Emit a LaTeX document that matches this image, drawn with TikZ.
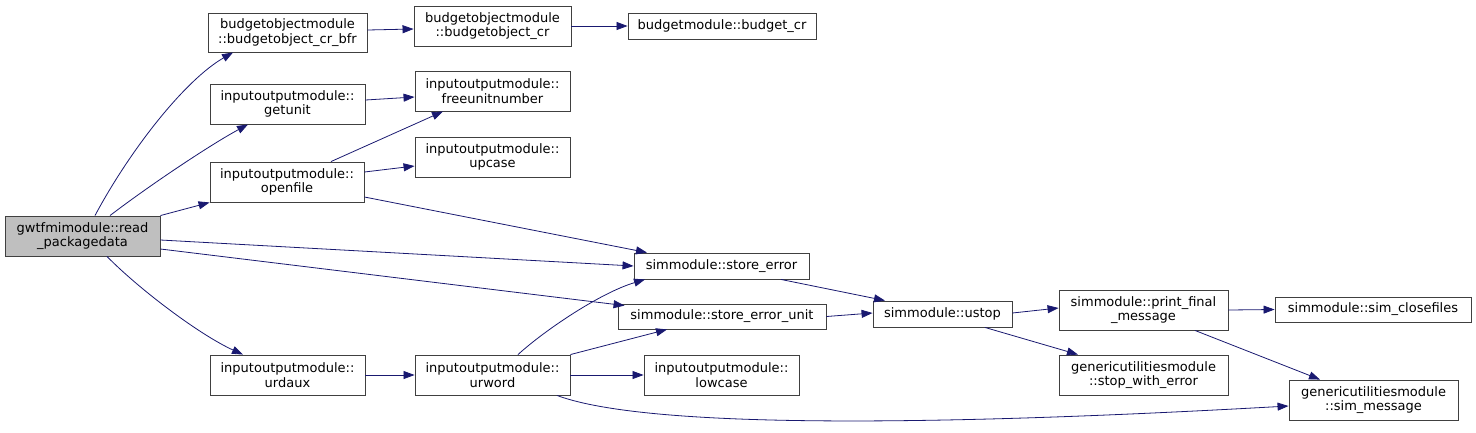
\documentclass[tikz,border=0pt]{standalone}
\usepackage{fontspec}
\setmainfont{DejaVu Sans}
\usetikzlibrary{arrows.meta}
\definecolor{edgeblue}{HTML}{191970}
\definecolor{boxgray}{HTML}{BFBFBF}
\definecolor{boxline}{HTML}{404040}
\begin{document}
\begin{tikzpicture}[x=1pt,y=-1pt,
  fn/.style={draw=boxline, line width=0.9pt, fill=white, inner sep=0pt, align=center,
    font=\fontsize{13}{14.5}\selectfont, text=black},
  cur/.style={fn, fill=boxgray},
  call/.style={draw=edgeblue, line width=0.8pt, -{Triangle[length=11pt,width=8pt]}}]
\useasboundingbox (0,0) rectangle (1476,432);
% nodes
\node[cur, minimum width=155pt, minimum height=40pt] (main) at (82.5,236) {gwtfmimodule::read\\\_packagedata};
\node[fn, minimum width=159pt, minimum height=39pt] (bfr) at (287.5,32.5) {budgetobjectmodule\\::budgetobject\_cr\_bfr};
\node[fn, minimum width=155pt, minimum height=40pt] (getunit) at (287.5,104) {inputoutputmodule::\\getunit};
\node[fn, minimum width=154pt, minimum height=40pt] (openfile) at (287,182) {inputoutputmodule::\\openfile};
\node[fn, minimum width=155pt, minimum height=40pt] (urdaux) at (287.5,375) {inputoutputmodule::\\urdaux};
\node[fn, minimum width=157pt, minimum height=40pt] (bocr) at (492.5,26) {budgetobjectmodule\\::budgetobject\_cr};
\node[fn, minimum width=188pt, minimum height=26pt] (budgetcr) at (722,26) {budgetmodule::budget\_cr};
\node[fn, minimum width=155pt, minimum height=40pt] (freeunit) at (492.5,91) {inputoutputmodule::\\freeunitnumber};
\node[fn, minimum width=155pt, minimum height=40pt] (upcase) at (492.5,157) {inputoutputmodule::\\upcase};
\node[fn, minimum width=155pt, minimum height=40pt] (urword) at (492.5,375) {inputoutputmodule::\\urword};
\node[fn, minimum width=175pt, minimum height=26pt] (serr) at (721.5,266) {simmodule::store\_error};
\node[fn, minimum width=208pt, minimum height=25pt] (seu) at (722,316.5) {simmodule::store\_error\_unit};
\node[fn, minimum width=155pt, minimum height=40pt] (lowcase) at (721.5,375) {inputoutputmodule::\\lowcase};
\node[fn, minimum width=139pt, minimum height=26pt] (ustop) at (942.5,314) {simmodule::ustop};
\node[fn, minimum width=169pt, minimum height=40pt] (pfm) at (1143.5,310) {simmodule::print\_final\\\_message};
\node[fn, minimum width=169pt, minimum height=40pt] (swe) at (1143.5,375) {genericutilitiesmodule\\::stop\_with\_error};
\node[fn, minimum width=196pt, minimum height=25pt] (closef) at (1373,309.5) {simmodule::sim\_closefiles};
\node[fn, minimum width=169pt, minimum height=40pt] (simmsg) at (1373.5,400) {genericutilitiesmodule\\::sim\_message};
% edges from main
\draw[call] ([xshift=12.5pt]main.north) .. controls (130,150) and (185,80) .. ([xshift=-54.5pt]bfr.south);
\draw[call] ([xshift=27.5pt]main.north) .. controls (150,185) and (210,145) .. ([xshift=-39.5pt]getunit.south);
\draw[call] (main.north east) -- (openfile.south west);
\draw[call] ([yshift=-4pt]main.east) -- (serr.west);
\draw[call] ([yshift=-13pt]main.east) -- ([xshift=7pt,yshift=-2pt]seu.north west);
\draw[call] ([xshift=24.5pt]main.south) .. controls (140,290) and (200,335) .. ([xshift=-44.5pt]urdaux.north);
% level 2
\draw[call] ([yshift=2.5pt]bfr.east) -- ([yshift=-3pt]bocr.west);
\draw[call] (bocr.east) -- (budgetcr.west);
\draw[call] ([yshift=4pt]getunit.east) -- ([yshift=-6pt]freeunit.west);
\draw[call] ([xshift=44pt]openfile.north) -- ([xshift=-49.5pt]freeunit.south);
\draw[call] ([yshift=10pt]openfile.east) -- ([yshift=-9pt]upcase.west);
\draw[call] ([yshift=-15pt]openfile.east) -- ([xshift=-74.5pt]serr.north);
\draw[call] (urdaux.east) -- (urword.west);
% urword
\draw[call] ([xshift=25.5pt]urword.north) .. controls (545,330) and (600,293) .. ([xshift=-76.5pt]serr.south);
\draw[call] (urword.north east) -- ([xshift=-55pt]seu.south);
\draw[call] (urword.east) -- (lowcase.west);
\draw[call] ([xshift=64.5pt]urword.south) .. controls (650,430) and (950,425) .. ([yshift=-6pt]simmsg.west);
% right part
\draw[call] ([xshift=59.5pt]serr.south) -- ([xshift=-57.5pt]ustop.north);
\draw[call] (seu.east) -- ([yshift=1pt]ustop.west);
\draw[call] ([yshift=1pt]ustop.east) -- ([yshift=2pt]pfm.west);
\draw[call] ([xshift=42.5pt]ustop.south) -- ([xshift=-65.5pt]swe.north);
\draw[call] (pfm.east) -- (closef.west);
\draw[call] ([xshift=51.5pt]pfm.south) -- ([xshift=-53.5pt]simmsg.north);
\end{tikzpicture}
\end{document}
